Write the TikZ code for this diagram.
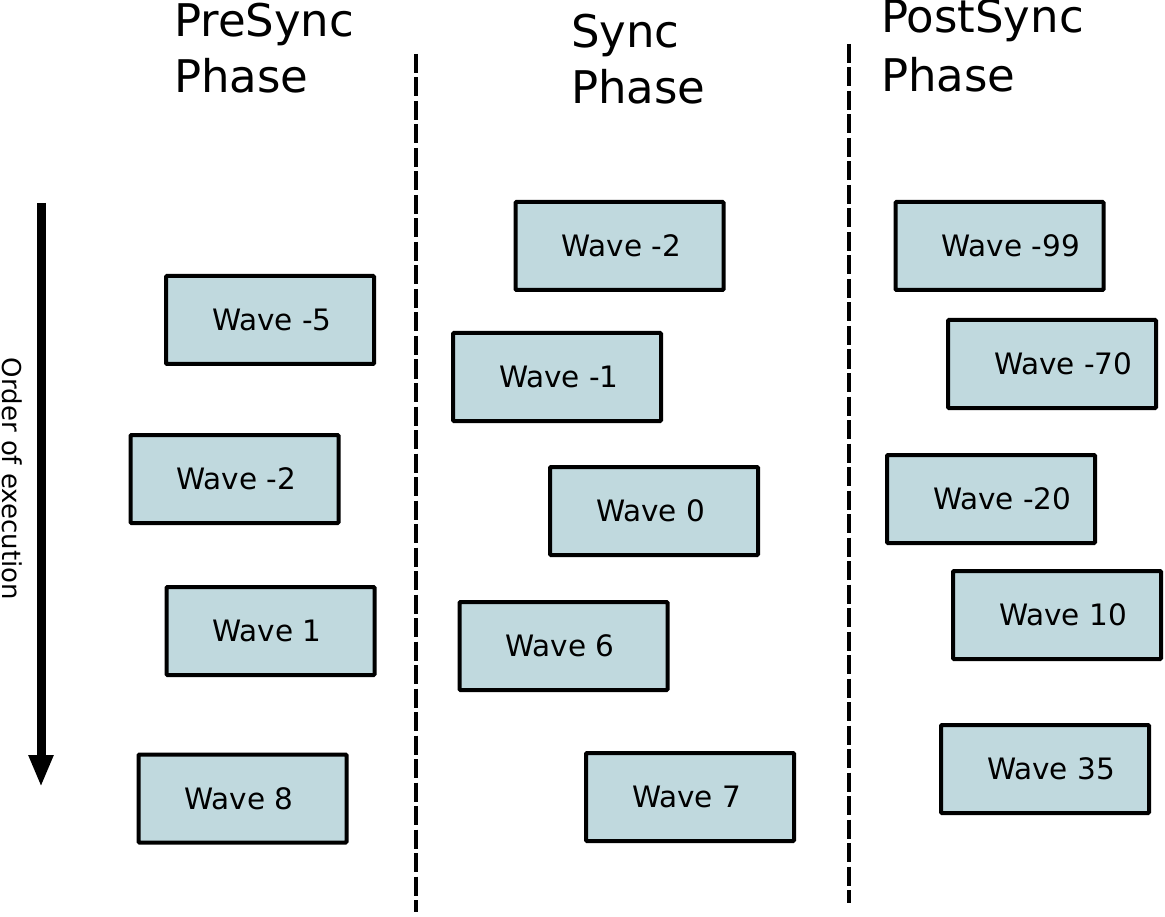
\documentclass[tikz,border=0pt]{standalone}
\usepackage{fontspec}
\setmainfont{DejaVu Sans}
\usetikzlibrary{arrows.meta}
\definecolor{boxfill}{RGB}{192,217,222}
\tikzset{
  wbox/.style={draw=black, line width=4pt, fill=boxfill, rounded corners=1pt,
    minimum width=208pt, minimum height=88pt, inner xsep=46pt, inner ysep=0pt,
    font=\fontsize{29.5}{34}\selectfont},
  phase/.style={anchor=base west, inner sep=0pt, align=left,
    font=\fontsize{45}{56}\selectfont},
  divider/.style={line width=4.5pt, dash pattern=on 19pt off 4.5pt},
}
\newcommand{\wv}[1]{\makebox[116pt][l]{#1}}
\begin{document}
\begin{tikzpicture}[x=1pt,y=-1pt]
\useasboundingbox (0,0) rectangle (1165,917);
% titles (anchored at the baseline of the last line)
\node[phase] (tPre) at (174,93) {PreSync\\Phase};
\node[phase] (tSync) at (571,104) {Sync\\Phase};
\node[phase, font=\fontsize{45}{59}\selectfont] (tPost) at (881,92) {PostSync\\Phase};
% dividers
\coordinate (d1a) at (416,54); \coordinate (d1b) at (416,912);
\coordinate (d2a) at (849,44); \coordinate (d2b) at (849,903);
\draw[divider] (d1a) -- (d1b);
\draw[divider] (d2a) -- (d2b);
% order arrow
\coordinate (arTop) at (41,203); \coordinate (arBot) at (41,787);
\draw[line width=9pt, -{Triangle[length=32pt,width=23pt]}] (arTop) -- (arBot);
\node[rotate=-90, inner sep=0pt, font=\fontsize{26}{30}\selectfont] (order) at (12.5,479) {Order of execution};
% PreSync
\node[wbox] (pm5) at (270,320) {\wv{Wave -5}};
\node[wbox] (pm2) at (234.5,479) {\wv{Wave -2}};
\node[wbox] (p1) at (270.5,631) {\wv{Wave 1}};
\node[wbox] (p8) at (242.5,798.5) {\wv{Wave 8}};
% Sync
\node[wbox] (sm2) at (619.5,246) {\wv{Wave -2}};
\node[wbox] (sm1) at (557,377) {\wv{Wave -1}};
\node[wbox] (s0) at (654,511) {\wv{Wave 0}};
\node[wbox] (s6) at (563.5,646) {\wv{Wave 6}};
\node[wbox] (s7) at (690,797) {\wv{Wave 7}};
% PostSync
\node[wbox] (qm99) at (999.5,246) {\wv{Wave -99}};
\node[wbox] (qm70) at (1052,364) {\wv{Wave -70}};
\node[wbox] (qm20) at (991,499) {\wv{Wave -20}};
\node[wbox] (q10) at (1057,615) {\wv{Wave 10}};
\node[wbox] (q35) at (1045,769) {\wv{Wave 35}};
\end{tikzpicture}
\end{document}
